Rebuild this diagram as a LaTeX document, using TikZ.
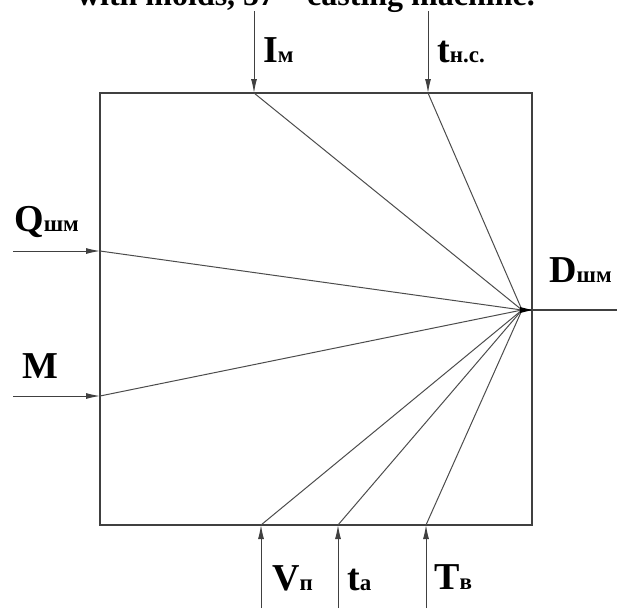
\documentclass[tikz,border=0pt]{standalone}
\usepackage{fontspec}
\setmainfont{Liberation Serif}
\usepackage{tikz}
\usetikzlibrary{arrows.meta, positioning, calc}

\newcommand{\vlabel}[2]{{\fontsize{38}{38}\selectfont\bfseries #1}{\fontsize{23}{23}\selectfont\bfseries #2}}

\tikzset{
  flow/.style={draw=black!75, line width=1pt, -{Latex[length=14pt, width=6pt]}},
  ray/.style={draw=black!70, line width=1pt},
  lbl/.style={inner sep=0pt, anchor=base west}
}

\begin{document}
\begin{tikzpicture}[x=1pt, y=-1pt]
\useasboundingbox (0,0) rectangle (617,608);

\node[inner sep=0pt, anchor=base east, font=\fontsize{32}{32}\selectfont\bfseries] (cap) at (535,5) {with molds, 57 – casting machine.};

\draw[draw=black!75, line width=1.4pt] (100,93) rectangle (532,525);

\coordinate (f) at (522,310);
\coordinate (iin) at (254,93);
\coordinate (tin) at (428,93);
\coordinate (qin) at (100,251);
\coordinate (min) at (100,396);
\coordinate (vin) at (261,525);
\coordinate (tain) at (338,525);
\coordinate (twin) at (426,525);
\coordinate (iout) at (254,11);
\coordinate (tout) at (428,11);
\coordinate (qout) at (13,251);
\coordinate (mout) at (13,396);
\coordinate (vout) at (261,608);
\coordinate (taout) at (338,608);
\coordinate (twout) at (426,608);
\coordinate (dout) at (617,310);

\node[lbl] (i) at (263,62) {\vlabel{I}{м}};
\node[lbl] (t) at (437,62) {\vlabel{t}{н.с.}};
\node[lbl] (q) at (14,231) {\vlabel{Q}{шм}};
\node[lbl] (m) at (22,378) {\vlabel{M}{}};
\node[lbl] (d) at (549,282) {\vlabel{D}{шм}};
\node[lbl] (v) at (272,590) {\vlabel{V}{п}};
\node[lbl] (ta) at (347,590) {\vlabel{t}{а}};
\node[lbl] (tw) at (434,589) {\vlabel{T}{в}};

\draw[flow] (iout) -- (iin);
\draw[flow] (tout) -- (tin);
\draw[flow] (qout) -- (qin);
\draw[flow] (mout) -- (min);
\draw[flow] (vout) -- (vin);
\draw[flow] (taout) -- (tain);
\draw[flow] (twout) -- (twin);

\draw[ray] (iin) -- (f);
\draw[ray] (tin) -- (f);
\draw[ray] (qin) -- (f);
\draw[ray] (min) -- (f);
\draw[ray] (vin) -- (f);
\draw[ray] (tain) -- (f);
\draw[ray] (twin) -- (f);

\draw[draw=black!75, line width=1.4pt] (f) -- (dout);
\fill[black] ($(f)+(-2,-3)$) -- ($(f)+(10,0)$) -- ($(f)+(-2,3)$) -- cycle;
\end{tikzpicture}
\end{document}
